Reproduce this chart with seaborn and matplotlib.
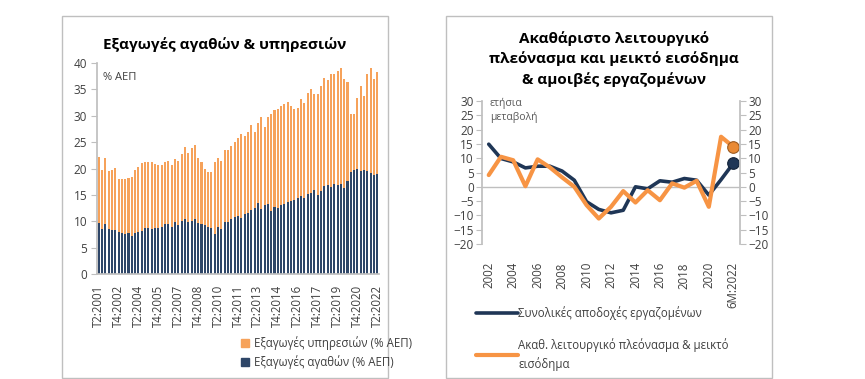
import matplotlib
matplotlib.use("Agg")
import matplotlib.pyplot as plt
import seaborn as sns
from matplotlib.patches import Rectangle, Patch
from matplotlib.lines import Line2D

# ---------------- data: left chart (quarterly, % of GDP) ----------------
quarters = []
for y in range(2001, 2023):
    for q in range(1, 5):
        if (y == 2001 and q < 2) or (y == 2022 and q > 2):
            continue
        quarters.append(f"T{q}:{y}")

goods = [9.7, 8.5, 9.5, 8.5, 8.4, 8.4, 7.9, 7.8, 7.6, 7.7,
         7.2, 7.7, 7.9, 8.1, 8.8, 8.7, 8.6, 8.8, 8.8, 8.9,
         9.4, 9.5, 9.0, 9.8, 9.3, 10.1, 10.5, 9.8, 10.1, 10.5,
         9.6, 9.4, 9.2, 9.0, 8.7, 7.6, 8.9, 8.6, 9.9, 9.9,
         10.4, 10.8, 11.0, 10.7, 11.4, 11.6, 12.2, 12.5, 13.5, 12.4,
         13.0, 13.3, 11.9, 12.7, 12.6, 13.0, 13.3, 13.6, 13.8, 14.0,
         14.4, 14.8, 14.5, 15.1, 15.3, 15.9, 15.0, 15.7, 16.6, 16.8,
         16.5, 17.0, 16.9, 17.0, 16.3, 17.6, 19.4, 19.8, 19.9, 19.6,
         19.7, 19.5, 19.2, 18.7, 18.9]

services = [12.4, 11.3, 12.4, 11.0, 11.4, 11.7, 10.2, 10.2, 10.5, 10.5,
            11.2, 12.0, 12.4, 12.9, 12.4, 12.6, 12.6, 12.1, 11.9, 11.8,
            11.8, 12.0, 11.6, 12.0, 12.1, 12.7, 13.5, 13.2, 13.8, 14.0,
            12.4, 11.9, 10.7, 10.3, 10.6, 13.6, 13.1, 12.9, 13.7, 13.7,
            13.9, 14.2, 14.8, 15.8, 14.8, 15.4, 16.1, 14.5, 15.2, 17.3,
            14.8, 16.5, 18.4, 18.3, 18.6, 18.8, 18.9, 19.0, 18.0, 17.3,
            17.0, 18.3, 18.0, 19.3, 19.7, 18.3, 19.2, 19.9, 20.5, 20.0,
            21.5, 20.9, 21.6, 22.1, 20.7, 18.8, 10.9, 10.5, 13.4, 16.1,
            14.1, 18.4, 19.9, 18.2, 19.4]

left_ticklabels = ["T2:2001", "T4:2002", "T2:2004", "T4:2005", "T2:2007",
                   "T4:2008", "T2:2010", "T4:2011", "T2:2013", "T4:2014",
                   "T2:2016", "T4:2017", "T2:2019", "T4:2020", "T2:2022"]

# ---------------- data: right chart (annual % change) ----------------
years = ["2002", "2003", "2004", "2005", "2006", "2007", "2008", "2009",
         "2010", "2011", "2012", "2013", "2014", "2015", "2016", "2017",
         "2018", "2019", "2020", "2021", "6M:2022"]
compensation = [14.9, 9.9, 8.7, 6.6, 7.2, 7.2, 5.5, 2.3, -5.2, -7.9,
                -9.1, -8.2, 0.0, -0.7, 2.1, 1.6, 2.9, 2.3, -2.9, 2.5, 8.2]
surplus = [4.1, 10.5, 9.3, 0.2, 9.6, 6.8, 3.3, 0.0, -6.4, -11.1,
           -7.0, -1.5, -5.5, -1.2, -4.7, 1.2, -0.3, 2.1, -7.0, 17.5, 14.0]
right_ticklabels = ["2002", "2004", "2006", "2008", "2010", "2012",
                    "2014", "2016", "2018", "2020", "6M:2022"]

# ---------------- style ----------------
sns.set_theme(style="white")
plt.rcParams["font.family"] = ["Open Sans", "DejaVu Sans"]
plt.rcParams["axes.edgecolor"] = "#BFBFBF"

NAVY_BAR = "#2E4668"
ORANGE_BAR = "#F6A25A"
NAVY_LINE = "#1F3656"
ORANGE_LINE = "#F79444"
TXT = "#404040"
GRID = "#BFBFBF"

W, H = 865, 379
fig = plt.figure(figsize=(W / 100, H / 100), dpi=100)

def fx(px):
    return px / W

def fy(py):
    return 1 - py / H

# panel borders
for x0, x1 in [(62, 388), (446, 772)]:
    fig.patches.append(Rectangle((fx(x0), fy(378)), fx(x1 - x0), (378 - 16) / H,
                                 transform=fig.transFigure, fill=False,
                                 edgecolor="#BFBFBF", lw=1.0))

# ---------------- left chart ----------------
axL = fig.add_axes([fx(97), fy(274), fx(379 - 97), (274 - 63) / H])
sns.barplot(x=quarters, y=goods, color=NAVY_BAR, width=0.62, ax=axL,
            saturation=1, linewidth=0)
sns.barplot(x=quarters, y=services, bottom=goods, color=ORANGE_BAR, width=0.62,
            ax=axL, saturation=1, linewidth=0)
axL.set_xlim(-0.5, 84.5)
axL.set_ylim(0, 40)
axL.set_yticks(range(0, 41, 5))
axL.set_xticks(range(0, 85, 6))
axL.set_xticklabels(left_ticklabels, rotation=90)
axL.tick_params(axis="x", length=0, pad=8, labelsize=8.3, colors=TXT)
axL.tick_params(axis="y", length=4, width=0.8, color=GRID, labelsize=8.5,
                colors=TXT, direction="out", left=True, pad=3)
for s in ["top", "right"]:
    axL.spines[s].set_visible(False)
axL.spines["left"].set_color(GRID)
axL.spines["bottom"].set_color(GRID)
axL.set_xlabel("")
axL.set_ylabel("")
axL.text(0.02, 0.93, "% ΑΕΠ", transform=axL.transAxes, fontsize=8,
         color=TXT, va="center", ha="left")

fig.text(fx(225), fy(45), "Εξαγωγές αγαθών & υπηρεσιών", ha="center",
         va="center", fontsize=11, fontweight="bold", color="black")

legL = fig.legend(handles=[Patch(color=ORANGE_BAR), Patch(color=NAVY_BAR)],
                  labels=["Εξαγωγές υπηρεσιών (% ΑΕΠ)", "Εξαγωγές αγαθών (% ΑΕΠ)"],
                  loc="upper left", bbox_to_anchor=(fx(241), fy(336)),
                  frameon=False, fontsize=8.3, handlelength=0.7, handleheight=0.7,
                  handletextpad=0.4, labelspacing=0.5, borderaxespad=0,
                  borderpad=0)
for t in legL.get_texts():
    t.set_color(TXT)

# ---------------- right chart ----------------
axR = fig.add_axes([fx(482), fy(244), fx(740 - 482), (244 - 101) / H])
idx = list(range(len(years)))
axR.axhline(0, color=GRID, lw=1.0, zorder=1)
sns.lineplot(x=idx, y=compensation, color=NAVY_LINE, lw=2.6, ax=axR, zorder=3)
sns.lineplot(x=idx, y=surplus, color=ORANGE_LINE, lw=3.0, ax=axR, zorder=4)
sns.scatterplot(x=idx[-1:], y=compensation[-1:], color=NAVY_LINE, s=70,
                ax=axR, zorder=5, edgecolor="#14243A", linewidth=0.8)
sns.scatterplot(x=idx[-1:], y=surplus[-1:], color="#E98A35", s=70,
                ax=axR, zorder=6, edgecolor="#9C5A20", linewidth=0.8)
axR.set_xlim(-0.55, 20.55)
axR.set_ylim(-20, 30)
axR.set_yticks(range(-20, 31, 5))
axR.set_xticks(range(0, 21, 2))
axR.set_xticklabels(right_ticklabels, rotation=90)
axR.tick_params(axis="x", length=0, pad=13, labelsize=8.3, colors=TXT)
axR.tick_params(axis="y", length=4, width=0.8, color=GRID, labelsize=8.5,
                colors=TXT, direction="out", left=True, pad=2)
for s in ["top", "bottom", "right"]:
    axR.spines[s].set_visible(False)
axR.spines["left"].set_color(GRID)

axR2 = axR.twinx()
axR2.set_ylim(-20, 30)
axR2.set_yticks(range(-20, 31, 5))
axR2.tick_params(axis="y", length=4, width=0.8, color=GRID, labelsize=8.5,
                 colors=TXT, direction="out", right=True, pad=2)
for s in ["top", "bottom", "left"]:
    axR2.spines[s].set_visible(False)
axR2.spines["right"].set_color(GRID)
axR2.grid(False)

axR.text(0.03, 1.02, "ετήσια\nμεταβολή", transform=axR.transAxes, fontsize=7.5,
         color="#595959", va="top", ha="left", linespacing=1.3)

fig.text(fx(614), fy(59), "Ακαθάριστο λειτουργικό\nπλεόνασμα και μεικτό εισόδημα\n& αμοιβές εργαζομένων",
         ha="center", va="center", fontsize=11, fontweight="bold",
         color="black", linespacing=1.45)

legR = fig.legend(handles=[Line2D([], [], color=NAVY_LINE, lw=2.6),
                           Line2D([], [], color=ORANGE_LINE, lw=3.0)],
                  labels=["Συνολικές αποδοχές εργαζομένων",
                          "Ακαθ. λειτουργικό πλεόνασμα & μεικτό\nεισόδημα"],
                  loc="upper left", bbox_to_anchor=(fx(476), fy(306)),
                  frameon=False, fontsize=8.3, handlelength=3.6,
                  handletextpad=0.05, labelspacing=1.55, borderaxespad=0,
                  borderpad=0)
for t in legR.get_texts():
    t.set_color(TXT)
    t.set_linespacing(1.5)

fig.savefig("out.png", dpi=100)
